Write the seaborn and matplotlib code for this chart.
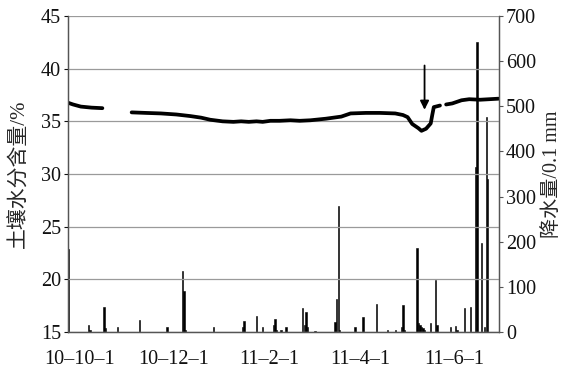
import matplotlib
matplotlib.use("Agg")
import matplotlib.pyplot as plt
import numpy as np
import pandas as pd
import seaborn as sns

# -- data --------------------------------------------------------------------

ORIGIN = pd.Timestamp("2010-10-01")
X_START = "2010-09-24"
X_END = "2011-06-30"

# soil moisture (%), segment id breaks the line where data is missing
MOIST_DATES = [
    "2010-09-24", "2010-09-27", "2010-10-02", "2010-10-09", "2010-10-16",
    "2010-11-04", "2010-11-13", "2010-11-23", "2010-12-03", "2010-12-12",
    "2010-12-19", "2010-12-25", "2011-01-02", "2011-01-09", "2011-01-14",
    "2011-01-19", "2011-01-24", "2011-01-28", "2011-02-02", "2011-02-08",
    "2011-02-15", "2011-02-21", "2011-02-28", "2011-03-10", "2011-03-20",
    "2011-03-26", "2011-04-05", "2011-04-14", "2011-04-24", "2011-04-29",
    "2011-05-02", "2011-05-05", "2011-05-09", "2011-05-11", "2011-05-14",
    "2011-05-17", "2011-05-18", "2011-05-19", "2011-05-23", "2011-05-27",
    "2011-05-31", "2011-06-04", "2011-06-06", "2011-06-11", "2011-06-18",
    "2011-06-24", "2011-06-30",
]
MOIST_VALUES = [
    36.75, 36.6, 36.4, 36.3, 36.25,
    35.85, 35.8, 35.75, 35.65, 35.5,
    35.35, 35.15, 35.0, 34.95, 35.0,
    34.95, 35.0, 34.95, 35.05, 35.05,
    35.1, 35.05, 35.1, 35.25, 35.45,
    35.75, 35.8, 35.8, 35.75, 35.6,
    35.4, 34.75, 34.35, 34.1, 34.3,
    34.8, 35.6, 36.35, 36.5, 36.6,
    36.7, 36.9, 37.0, 37.1, 37.05,
    37.1, 37.15,
]
MOIST_SEGMENT = [0] * 5 + [1] * 34 + [2] * 8

# precipitation (0.1 mm)
RAIN_DATES = [
    "2010-09-24", "2010-10-07", "2010-10-08", "2010-10-17", "2010-10-18",
    "2010-10-26", "2010-11-09", "2010-11-27", "2010-12-07", "2010-12-08",
    "2010-12-09", "2010-12-27", "2011-01-15", "2011-01-16", "2011-01-24",
    "2011-01-28", "2011-02-04", "2011-02-05", "2011-02-06", "2011-02-09",
    "2011-02-12", "2011-02-23", "2011-02-24", "2011-02-25", "2011-02-26",
    "2011-03-03", "2011-03-16", "2011-03-17", "2011-03-18", "2011-03-19",
    "2011-03-29", "2011-04-03", "2011-04-12", "2011-04-19", "2011-04-24",
    "2011-04-28", "2011-04-29", "2011-04-30", "2011-05-08", "2011-05-09",
    "2011-05-10", "2011-05-11", "2011-05-12", "2011-05-13", "2011-05-17",
    "2011-05-20", "2011-05-21", "2011-05-30", "2011-06-02", "2011-06-03",
    "2011-06-08", "2011-06-12", "2011-06-15", "2011-06-16", "2011-06-19",
    "2011-06-21", "2011-06-22", "2011-06-23",
]
RAIN_VALUES = [
    184, 15, 5, 55, 8,
    10, 27, 10, 135, 91,
    5, 10, 10, 25, 35,
    10, 15, 28, 5, 5,
    12, 54, 15, 45, 10,
    3, 23, 73, 279, 5,
    10, 34, 62, 5, 5,
    12, 60, 5, 187, 20,
    15, 12, 8, 5, 20,
    115, 15, 10, 13, 5,
    53, 55, 366, 643, 197,
    10, 477, 340,
]

TICK_DATES = ["2010-10-01", "2010-12-01", "2011-02-01", "2011-04-01", "2011-06-01"]
TICK_LABELS = ["10–10–1", "10–12–1", "11–2–1", "11–4–1", "11–6–1"]

ARROW_DATE = "2011-05-13"


def day(s):
    return (pd.to_datetime(s) - ORIGIN).days


# -- style -------------------------------------------------------------------

sns.set_style("white")
plt.rcParams["font.family"] = ["Liberation Serif", "Noto Sans CJK SC"]
FS = 14.5
SPINE = "#555555"

moist = pd.DataFrame({"day": day(MOIST_DATES), "moist": MOIST_VALUES,
                      "seg": MOIST_SEGMENT})
rain = pd.DataFrame({"day": day(RAIN_DATES), "rain": RAIN_VALUES})

fig = plt.figure(figsize=(5.64, 3.72), dpi=100)
ax = fig.add_axes([68 / 564, 40 / 372, 431 / 564, 316 / 372])
ax2 = ax.twinx()

sns.barplot(data=rain, x="day", y="rain", native_scale=True, width=0.9,
            color="black", edgecolor="black", linewidth=0.4,
            errorbar=None, ax=ax2)

sns.lineplot(data=moist, x="day", y="moist", units="seg", estimator=None,
             color="black", linewidth=2.7, ax=ax)

ax.set_zorder(ax2.get_zorder() + 1)
ax.patch.set_visible(False)

ax.set_xlim(day(X_START) - 0.3, day(X_END) + 0.3)
ax.set_ylim(15, 45)
ax.set_yticks(np.arange(15, 46, 5))
ax2.set_ylim(0, 700)
ax2.set_yticks(np.arange(0, 701, 100))
ax.set_xticks(day(TICK_DATES))
ax.set_xticklabels(TICK_LABELS)

ax.yaxis.grid(True, color="#9a9a9a", linewidth=0.9)
ax.xaxis.grid(False)

ax.set_xlabel("")
ax2.set_xlabel("")
ax.set_ylabel("土壤水分含量/%", fontsize=FS + 0.5)
ax2.set_ylabel("降水量/0.1 mm", fontsize=FS)
ax.yaxis.set_label_coords(-0.088, 0.5)
ax2.yaxis.set_label_coords(1.102, 0.5)

for a in (ax, ax2):
    a.tick_params(axis="both", labelsize=FS, colors="#111111", direction="out",
                  length=3, width=0.8, pad=2)
    for side, sp in a.spines.items():
        sp.set_color(SPINE)
        sp.set_linewidth(0.9)
    a.spines["top"].set_visible(False)
ax.tick_params(axis="x", length=0, pad=13)
ax2.tick_params(axis="y", colors=SPINE, labelcolor="#111111")

ax.annotate("", xy=(day(ARROW_DATE), 36.1), xytext=(day(ARROW_DATE), 40.3),
            arrowprops=dict(arrowstyle="-|>", color="black", lw=1.3,
                            mutation_scale=13, shrinkA=0, shrinkB=0))

fig.savefig("out.png", dpi=100)
